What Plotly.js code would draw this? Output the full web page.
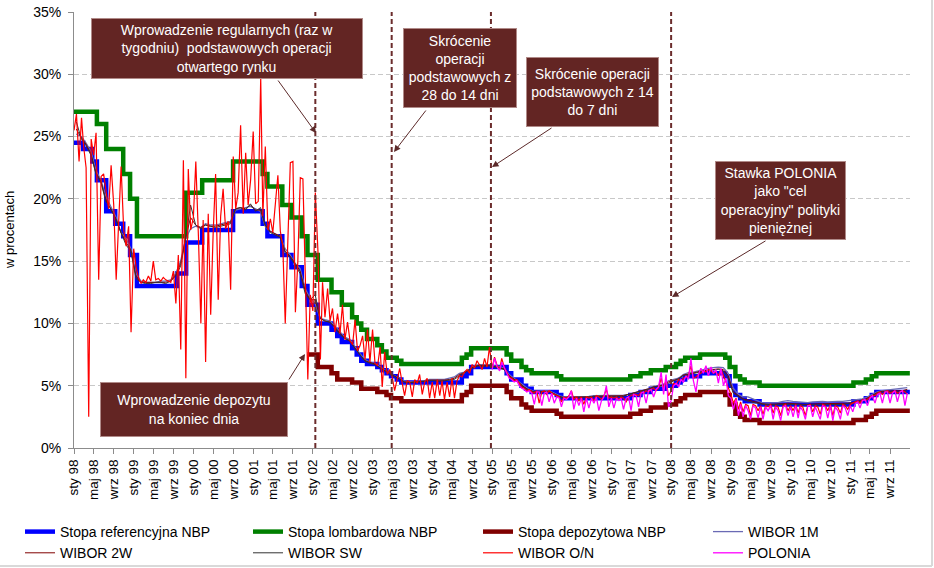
<!DOCTYPE html>
<html><head><meta charset="utf-8">
<script src="https://cdn.plot.ly/plotly-3.0.1.min.js"></script>
<style>html,body{margin:0;padding:0;background:#fff}#chart{width:934px;height:568px}</style>
</head><body><div id="chart"></div>
<script>
// ---------- NBP official rates (step functions) ----------
const refDates = ['1998-01-01','1998-02-26','1998-04-23','1998-05-21','1998-07-17','1998-09-10','1998-10-29','1998-12-10',
  '1999-01-21','1999-09-23','1999-11-18','2000-02-24','2000-08-31',
  '2001-02-28','2001-03-29','2001-06-28','2001-08-23','2001-10-25','2001-11-29',
  '2002-01-31','2002-04-25','2002-05-30','2002-06-27','2002-08-29','2002-09-26','2002-10-24','2002-11-28',
  '2003-01-30','2003-02-27','2003-03-27','2003-04-24','2003-05-29','2003-06-26',
  '2004-06-30','2004-07-29','2004-08-26',
  '2005-03-31','2005-04-28','2005-06-30','2005-07-28','2005-08-31','2006-01-31','2006-02-28',
  '2007-04-26','2007-06-28','2007-08-30','2007-11-29',
  '2008-01-31','2008-02-28','2008-03-27','2008-06-26','2008-11-27','2008-12-24',
  '2009-01-28','2009-02-26','2009-03-26','2009-06-25',
  '2011-01-20','2011-04-06','2011-05-12','2011-06-09','2011-12-31'];
const refVals = [24.5,24.0,23.0,21.5,19.0,18.0,17.0,15.5,
  13.0,14.0,16.5,17.5,19.0,
  18.0,17.0,15.5,14.5,13.0,11.5,
  10.0,9.5,9.0,8.5,8.0,7.5,7.0,6.75,
  6.5,6.25,6.0,5.75,5.5,5.25,
  5.75,6.0,6.5,
  6.0,5.5,5.0,4.75,4.5,4.25,4.0,
  4.25,4.5,4.75,5.0,
  5.25,5.5,5.75,6.0,5.75,5.0,
  4.25,4.0,3.75,3.5,
  3.75,4.0,4.25,4.5,4.5];

const lomDates = ['1998-01-01','1998-05-21','1998-07-17','1998-10-29','1998-12-10',
  '1999-01-21','1999-11-18','2000-02-24','2000-08-31',
  '2001-02-28','2001-03-29','2001-06-28','2001-08-23','2001-10-25','2001-11-29',
  '2002-01-31','2002-04-25','2002-06-27','2002-08-29','2002-09-26','2002-10-24','2002-11-28',
  '2003-01-30','2003-02-27','2003-03-27','2003-05-29','2003-06-26',
  '2004-06-30','2004-07-29','2004-08-26',
  '2005-03-31','2005-04-28','2005-06-30','2005-07-28','2005-08-31','2006-01-31','2006-02-28',
  '2007-04-26','2007-06-28','2007-08-30','2007-11-29',
  '2008-01-31','2008-02-28','2008-03-27','2008-06-26','2008-11-27','2008-12-24',
  '2009-01-28','2009-02-26','2009-03-26','2009-06-25',
  '2011-01-20','2011-04-06','2011-05-12','2011-06-09','2011-12-31'];
const lomVals = [27.0,26.0,24.0,22.0,20.0,
  17.0,20.5,21.5,23.0,
  22.0,21.0,19.5,18.5,17.0,15.5,
  13.5,12.5,11.5,10.5,10.0,9.5,8.75,
  8.25,7.75,7.25,7.0,6.75,
  7.25,7.5,8.0,
  7.5,7.0,6.5,6.25,6.0,5.75,5.5,
  5.75,6.0,6.25,6.5,
  6.75,7.0,7.25,7.5,7.25,6.5,
  5.75,5.5,5.25,5.0,
  5.25,5.5,5.75,6.0,6.0];

const depDates = ['2001-11-29','2002-01-31','2002-04-25','2002-05-30','2002-08-29','2002-10-24',
  '2003-01-30','2003-03-27','2003-04-24','2003-06-26',
  '2004-06-30','2004-07-29','2004-08-26',
  '2005-03-31','2005-04-28','2005-06-30','2005-07-28','2005-08-31','2006-01-31','2006-02-28',
  '2007-04-26','2007-06-28','2007-08-30','2007-11-29',
  '2008-01-31','2008-02-28','2008-03-27','2008-06-26','2008-11-27','2008-12-24',
  '2009-01-28','2009-02-26','2009-03-26','2009-06-25',
  '2011-01-20','2011-04-06','2011-05-12','2011-06-09','2011-12-31'];
const depVals = [7.5,6.5,6.0,5.5,5.25,4.75,
  4.5,4.25,4.0,3.75,
  4.25,4.5,5.0,
  4.5,4.0,3.5,3.25,3.0,2.75,2.5,
  2.75,3.0,3.25,3.5,
  3.75,4.0,4.25,4.5,4.25,3.5,
  2.75,2.5,2.25,2.0,
  2.25,2.5,2.75,3.0,3.0];

// ---------- WIBOR monthly (mid-month), 1998-01 .. 2011-12 ----------
const wibor1M = [
  25.2,25.0,24.5,23.8,22.3,21.5,20.2,19.3,18.5,17.3,16.8,16.0,
  14.0,13.4,13.3,13.3,13.3,13.4,13.4,13.5,14.0,15.0,16.8,17.6,
  17.8,17.7,18.0,17.9,17.9,18.0,18.1,18.2,19.1,19.2,19.3,19.4,
  19.2,19.0,17.8,17.4,17.2,17.0,16.0,15.5,14.8,14.4,12.8,12.0,
  11.6,10.4,10.3,10.2,9.8,9.3,8.9,8.7,8.1,7.6,7.1,6.9,
  6.8,6.5,6.3,6.0,5.8,5.6,5.35,5.3,5.3,5.35,5.4,5.5,
  5.5,5.5,5.5,5.6,5.7,6.0,6.1,6.3,6.6,6.7,6.7,6.7,
  6.6,6.55,6.4,5.9,5.6,5.3,4.95,4.7,4.55,4.55,4.6,4.6,
  4.4,4.2,4.1,4.1,4.1,4.15,4.15,4.15,4.2,4.2,4.2,4.2,
  4.2,4.2,4.25,4.3,4.4,4.55,4.65,4.75,4.95,5.0,5.1,5.4,
  5.5,5.6,5.9,6.05,6.1,6.2,6.35,6.4,6.45,6.5,6.45,6.0,
  4.8,4.3,4.1,4.1,3.95,3.8,3.6,3.6,3.6,3.65,3.75,3.8,
  3.75,3.7,3.65,3.65,3.7,3.75,3.75,3.7,3.75,3.75,3.75,3.8,
  3.85,3.9,3.95,4.1,4.3,4.5,4.6,4.65,4.65,4.7,4.75,4.85];
const wibor2W = [
  25.6,24.9,24.4,23.6,22.1,21.4,19.9,19.2,18.4,17.3,16.5,15.9,
  13.8,13.3,13.3,13.3,13.3,13.3,13.3,13.4,13.9,14.8,16.9,18.5,
  17.9,17.7,17.9,17.8,17.8,17.9,18.0,18.1,19.2,19.3,19.2,19.5,
  19.1,19.1,17.9,17.4,17.2,17.0,15.8,15.4,14.8,14.2,12.6,11.9,
  11.9,10.4,10.2,10.1,9.7,9.2,8.8,8.6,8.0,7.5,7.0,6.85,
  6.75,6.45,6.25,6.0,5.75,5.55,5.3,5.25,5.3,5.3,5.35,5.45,
  5.45,5.4,5.45,5.5,5.6,5.9,6.05,6.3,6.55,6.65,6.6,6.65,
  6.55,6.5,6.35,5.8,5.55,5.25,4.9,4.65,4.5,4.5,4.55,4.55,
  4.35,4.15,4.05,4.05,4.05,4.1,4.1,4.1,4.15,4.15,4.15,4.15,
  4.15,4.15,4.2,4.3,4.4,4.55,4.6,4.75,4.9,4.95,5.05,5.3,
  5.4,5.55,5.85,5.95,6.0,6.1,6.2,6.25,6.3,6.35,6.3,5.8,
  4.5,4.2,3.95,3.85,3.75,3.6,3.55,3.5,3.5,3.55,3.55,3.6,
  3.55,3.55,3.5,3.5,3.55,3.55,3.55,3.55,3.55,3.55,3.55,3.6,
  3.65,3.75,3.8,4.0,4.2,4.45,4.55,4.55,4.55,4.6,4.6,4.7];
const wiborSW = [
  26.2,24.8,24.3,23.5,22.0,21.3,19.8,19.2,18.3,17.3,16.3,15.8,
  13.6,13.3,13.2,13.2,13.3,13.3,13.2,13.4,13.8,14.6,16.8,19.5,
  17.9,17.6,17.9,17.8,17.7,17.8,17.9,18.0,19.2,19.3,19.1,19.6,
  19.0,19.3,17.9,17.3,17.1,16.9,15.7,15.3,14.7,14.0,12.4,11.9,
  12.3,10.4,10.2,10.1,9.7,9.1,8.8,8.6,8.0,7.5,7.0,6.8,
  6.7,6.45,6.2,5.95,5.75,5.5,5.3,5.25,5.3,5.3,5.35,5.4,
  5.4,5.35,5.4,5.45,5.5,5.8,6.0,6.3,6.5,6.6,6.55,6.6,
  6.5,6.45,6.3,5.7,5.5,5.2,4.85,4.65,4.5,4.5,4.55,4.55,
  4.35,4.1,4.05,4.05,4.05,4.1,4.1,4.1,4.15,4.15,4.15,4.1,
  4.15,4.1,4.15,4.3,4.4,4.55,4.6,4.7,4.9,4.95,5.0,5.2,
  5.35,5.55,5.8,5.9,5.95,6.05,6.15,6.2,6.25,6.3,6.2,5.6,
  4.4,4.1,3.9,3.75,3.65,3.55,3.5,3.5,3.45,3.5,3.5,3.55,
  3.5,3.5,3.45,3.45,3.5,3.5,3.5,3.5,3.5,3.5,3.5,3.55,
  3.6,3.7,3.75,3.95,4.15,4.4,4.5,4.5,4.5,4.5,4.5,4.6];

// ---------- WIBOR O/N, twice a month (1st & 16th), 1998-01 .. 2011-12 ----------
const wiborON = [
  25.5,26.8,23.0,26.5,24.2,22.5,2.5,24.8,23.5,25.3,13.5,21.8,22.0,20.5,19.2,22.7,19.5,13.5,18.5,22.6,17.5,16.2,17.8,9.3,
  16.0,14.5,13.6,13.2,13.5,13.3,13.8,13.4,15.0,13.5,13.6,13.4,13.7,13.5,13.4,13.3,14.2,11.6,15.5,7.9,23.1,5.6,22.4,17.5,
  18.5,23.0,17.0,10.0,18.3,6.9,18.8,10.7,17.2,22.0,11.9,18.6,20.8,17.6,18.2,12.7,23.4,19.2,20.5,25.9,18.8,23.7,19.5,21.5,
  25.4,19.6,19.8,29.7,18.6,24.2,17.5,18.4,17.3,19.5,21.9,17.4,16.2,10.0,16.0,22.9,23.0,10.9,15.0,21.7,21.6,13.5,5.5,12.3,
  11.0,20.5,15.8,7.1,13.3,10.5,12.8,10.2,11.2,9.3,10.8,9.2,11.5,8.7,10.1,8.6,8.3,10.3,7.8,8.2,9.0,7.1,9.5,6.9,
  9.5,6.8,6.6,8.1,4.9,7.7,5.9,6.3,5.7,4.6,5.6,6.4,5.2,4.2,5.4,5.3,4.1,5.5,5.2,5.9,4.3,5.3,5.6,4.0,
  5.3,4.0,5.5,4.2,5.4,3.9,5.3,4.1,5.6,4.0,5.4,5.8,5.7,6.1,6.3,6.0,6.7,6.4,7.0,6.6,6.3,7.2,6.5,8.1,
  6.4,7.3,6.6,6.3,7.2,6.5,6.1,5.7,5.6,5.4,5.5,5.2,4.9,4.8,4.6,4.7,4.5,4.4,4.6,3.6,4.5,4.6,4.3,4.6,
  4.4,4.3,4.2,4.1,3.7,4.1,4.0,4.2,4.6,3.9,4.1,3.8,4.1,3.5,4.1,4.0,4.1,3.8,4.2,4.1,3.9,4.2,4.7,4.0,
  4.1,4.0,4.1,3.9,4.1,4.0,3.7,4.1,4.2,4.3,4.3,4.2,4.5,4.4,4.6,4.5,4.7,4.8,4.6,4.8,5.6,4.8,5.4,4.2,
  4.6,5.2,5.1,5.5,5.4,5.6,5.7,5.8,6.6,5.6,5.7,5.9,6.0,6.2,6.1,6.3,6.2,6.0,6.1,5.8,6.3,5.8,5.3,4.8,
  4.3,3.6,4.0,3.1,3.7,2.9,3.5,3.4,2.6,3.5,3.4,3.0,3.4,2.7,3.4,3.3,3.5,2.8,3.4,3.3,2.6,3.4,3.5,3.0,
  3.4,3.0,3.5,2.8,3.4,3.3,2.6,3.4,3.5,2.9,3.4,3.3,2.7,3.5,3.4,3.0,3.5,2.6,3.4,3.3,2.8,3.5,3.4,3.1,
  3.5,3.6,3.7,3.8,3.6,3.9,3.8,3.9,4.1,4.2,4.2,4.4,4.5,4.3,4.5,4.6,4.4,4.5,4.6,4.4,4.5,4.6,4.5,4.3];

// ---------- POLONIA, twice a month, 2005-01 .. 2011-12 ----------
const polonia = [
  6.3,7.2,6.5,6.2,6.9,6.4,6.0,5.6,5.5,5.3,5.4,5.0,4.8,4.7,4.5,4.6,4.4,3.5,4.5,4.5,3.4,4.4,4.5,3.7,
  4.4,3.6,4.1,4.0,3.3,4.0,3.9,4.1,4.6,3.1,4.0,3.4,4.0,2.9,4.0,3.2,4.0,3.6,4.1,3.0,3.8,4.1,5.0,3.3,
  4.0,3.2,4.0,3.8,4.0,3.1,4.0,4.1,3.0,4.3,4.2,3.3,4.4,4.5,3.6,4.6,4.7,4.1,4.7,4.9,6.1,4.3,5.9,3.3,
  3.8,5.0,5.2,4.9,5.5,5.3,5.8,5.5,7.2,5.4,4.5,5.9,6.4,6.0,6.6,5.8,6.5,6.0,6.3,5.2,6.4,5.0,5.6,4.2,
  4.0,3.1,3.9,2.6,3.5,2.5,3.4,3.0,2.3,3.4,3.2,2.4,3.3,2.3,3.3,3.0,3.4,2.3,3.3,3.0,2.2,3.3,3.4,2.6,
  3.3,2.5,3.4,2.4,3.3,3.0,2.3,3.4,3.4,2.5,3.3,2.8,2.3,3.4,3.3,2.4,3.4,2.2,3.3,3.0,2.3,3.4,3.2,2.6,
  3.4,2.9,3.6,3.7,3.2,3.8,3.9,3.4,4.0,4.2,3.6,4.3,4.4,3.6,4.5,4.5,3.6,4.4,4.6,3.7,4.5,4.6,3.4,4.4];

// ---------- axis labels ----------
const tickMonths = ['sty','maj','wrz'];
const tickMonthNums = ['01','05','09'];
const tickYears = [1998,1999,2000,2001,2002,2003,2004,2005,2006,2007,2008,2009,2010,2011];
const yTicks = [0,5,10,15,20,25,30,35];
const yTitle = 'w procentach';

// ---------- event markers ----------
const eventDates = ['2002-01-16','2003-04-28','2004-12-25','2008-01-01'];

function pad(n){return (n<10?'0':'')+n;}
function monthlyDates(y0,n){const o=[];for(let i=0;i<n;i++){o.push((y0+Math.floor(i/12))+'-'+pad(i%12+1)+'-15');}return o;}
function semiDates(y0,n){const o=[];for(let i=0;i<n;i++){const y=y0+Math.floor(i/24);const m=Math.floor((i%24)/2)+1;o.push(y+'-'+pad(m)+'-'+(i%2?'16':'01'));}return o;}

const tickVals=[], tickText=[];
tickYears.forEach(y=>{tickMonths.forEach((mn,k)=>{tickVals.push(y+'-'+tickMonthNums[k]+'-01');tickText.push(mn+' '+String(y).slice(2));});});

const FONT='"Liberation Sans", Arial, sans-serif';

const traces = [
  {name:'Stopa referencyjna NBP', x:refDates, y:refVals, mode:'lines', line:{color:'#0000ff',width:4.5,shape:'hv'}, legend:'legend'},
  {name:'Stopa lombardowa NBP', x:lomDates, y:lomVals, mode:'lines', line:{color:'#008000',width:4.5,shape:'hv'}, legend:'legend2'},
  {name:'Stopa depozytowa NBP', x:depDates, y:depVals, mode:'lines', line:{color:'#800000',width:4.5,shape:'hv'}, legend:'legend3'},
  {name:'WIBOR 1M', x:monthlyDates(1998,wibor1M.length), y:wibor1M, mode:'lines', line:{color:'#6a6ab4',width:1.3}, legend:'legend4'},
  {name:'WIBOR 2W', x:monthlyDates(1998,wibor2W.length), y:wibor2W, mode:'lines', line:{color:'#800000',width:1}, legend:'legend'},
  {name:'WIBOR SW', x:monthlyDates(1998,wiborSW.length), y:wiborSW, mode:'lines', line:{color:'#333333',width:1}, legend:'legend2'},
  {name:'WIBOR O/N', x:semiDates(1998,wiborON.length), y:wiborON, mode:'lines', line:{color:'#ff0000',width:1.2}, legend:'legend3'},
  {name:'POLONIA', x:semiDates(2005,polonia.length), y:polonia, mode:'lines', line:{color:'#ff00ff',width:1.3}, legend:'legend4'}
];

// pixel helpers for placing boxes (plot area: x 74..910, y 12..448)
const PX=(p)=>(p-74)/836, PY=(p)=>(448-p)/436;

function legendAt(px){return {orientation:'v',xref:'container',yref:'container',x:px/934,xanchor:'left',y:(568-516)/568,yanchor:'top',
  bgcolor:'rgba(0,0,0,0)',borderwidth:0,font:{family:FONT,size:14,color:'#000'},tracegroupgap:0};}

const boxStyle = {bgcolor:'#632523',bordercolor:'#b08a88',borderwidth:1,borderpad:0,font:{family:FONT,size:14,color:'#ffffff'},showarrow:false,xref:'paper',yref:'paper',xanchor:'center',yanchor:'middle'};
function box(txt,x0,x1,y0,y1){return Object.assign({},boxStyle,{text:txt,x:PX((x0+x1)/2),y:PY((y0+y1)/2),width:x1-x0-2,height:y1-y0-2});}
function arrow(hx,hy,tx,ty){return {text:'',showarrow:true,xref:'paper',yref:'paper',x:PX(hx),y:PY(hy),ax:tx-hx,ay:ty-hy,arrowcolor:'#5c2a2a',arrowwidth:1,arrowhead:2,arrowsize:1.3};}

const annotations = [
  box('Wprowadzenie regularnych (raz w<br>tygodniu)  podstawowych operacji<br>otwartego rynku',91,363,18,79),
  box('Skrócenie<br>operacji<br>podstawowych z<br>28 do 14 dni',403,517,28,108),
  box('Skrócenie operacji<br>podstawowych z 14<br>do 7 dni',526,659,57,127),
  box('Stawka POLONIA<br>jako "cel<br>operacyjny" polityki<br>pieniężnej',715,846,161,240),
  box('Wprowadzenie depozytu<br>na koniec dnia',100,288,382,437),
  arrow(316,133,277,79),
  arrow(394,152,427,109),
  arrow(492,167,553,127),
  arrow(672,297,767,240),
  arrow(305,354,288,381),
  {text:yTitle,textangle:-90,showarrow:false,xref:'paper',yref:'paper',x:PX(9),y:PY(230),xanchor:'center',yanchor:'middle',
   font:{family:FONT,size:13,color:'#000'}}
];

const shapes = eventDates.map(d=>({type:'line',xref:'x',yref:'paper',x0:d,x1:d,y0:0,y1:1,line:{color:'#6b2c2c',width:2,dash:'5px,3px'},layer:'above'}));
shapes.push({type:'line',xref:'paper',yref:'paper',x0:PX(932),x1:PX(932),y0:PY(0),y1:PY(566),line:{color:'#d9d9d9',width:2}});
shapes.push({type:'line',xref:'paper',yref:'paper',x0:PX(0),x1:PX(932),y0:PY(566),y1:PY(566),line:{color:'#d9d9d9',width:2}});

const layout = {
  width:934, height:568,
  margin:{l:74,r:24,t:12,b:120,autoexpand:false},
  paper_bgcolor:'#ffffff', plot_bgcolor:'#ffffff',
  font:{family:FONT,size:14,color:'#000'},
  showlegend:true,
  xaxis:{type:'date',range:['1998-01-01','2012-01-01'],tickmode:'array',tickvals:tickVals,ticktext:tickText,tickangle:-90,
    tickfont:{family:FONT,size:13.5,color:'#000'},showline:true,linecolor:'#8c8c8c',linewidth:1,ticks:'outside',ticklen:5,tickcolor:'#8c8c8c',
    showgrid:false,zeroline:false,fixedrange:true},
  yaxis:{range:[0,35],tickmode:'array',tickvals:yTicks,ticktext:yTicks.map(v=>v+'%'),tickfont:{family:FONT,size:14,color:'#000'},
    showgrid:true,gridcolor:'#c8c8c8',griddash:'5px,3px',gridwidth:1,showline:true,linecolor:'#8c8c8c',linewidth:1,
    ticks:'outside',ticklen:5,tickcolor:'#8c8c8c',zeroline:false,ticklabelstandoff:4,fixedrange:true},
  legend:legendAt(20), legend2:legendAt(248), legend3:legendAt(478), legend4:legendAt(708),
  annotations:annotations,
  shapes:shapes
};

Plotly.newPlot('chart',traces,layout,{displayModeBar:false,staticPlot:true});
</script></body></html>
